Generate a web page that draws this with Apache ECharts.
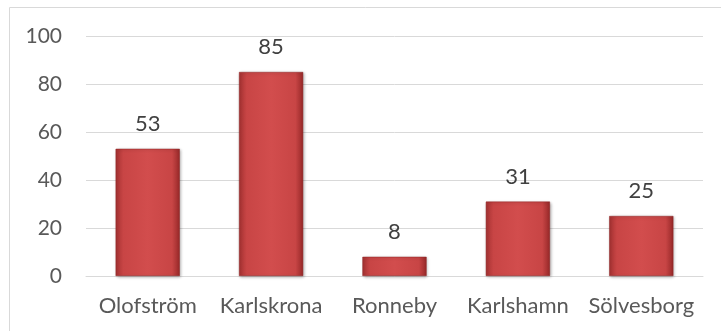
<!DOCTYPE html>
<html><head><meta charset="utf-8">
<script src="https://cdn.jsdelivr.net/npm/echarts@6/dist/echarts.min.js"></script>
<style>html,body{margin:0;padding:0;background:#fff}#c{width:721px;height:331px}</style>
</head><body><div id="c"></div>
<script>
var categories = ['Olofström', 'Karlskrona', 'Ronneby', 'Karlshamn', 'Sölvesborg'];
var values = [53, 85, 8, 31, 25];
var yTicks = [0, 20, 40, 60, 80, 100];

var chart = echarts.init(document.getElementById('c'), null, {renderer: 'canvas'});
var font = 'Lato, sans-serif';
chart.setOption({
  animation: false,
  graphic: [{
    type: 'rect', shape: {x: 9.5, y: 7.5, width: 800, height: 400},
    style: {fill: 'none', stroke: '#d9d9d9', lineWidth: 1}, silent: true
  }],
  grid: {left: 86, right: 18, top: 36, bottom: 55},
  xAxis: {
    type: 'category', data: categories,
    axisLine: {lineStyle: {color: '#d9d9d9', width: 1}},
    axisTick: {show: false},
    axisLabel: {color: '#595959', fontSize: 22, fontFamily: font, margin: 19, interval: 0, hideOverlap: false}
  },
  yAxis: {
    type: 'value', min: 0, max: 100, interval: 20,
    axisLine: {show: false}, axisTick: {show: false},
    splitLine: {lineStyle: {color: '#d9d9d9', width: 1}},
    axisLabel: {color: '#595959', fontSize: 21, fontFamily: font, margin: 24,
      formatter: function (v) { return yTicks.indexOf(v) >= 0 ? String(v) : ''; }}
  },
  series: [{
    type: 'bar', data: values, barWidth: '52%',
    itemStyle: {
      color: {type: 'linear', x: 0, y: 0, x2: 1, y2: 0, colorStops: [
        {offset: 0, color: '#a63232'}, {offset: 0.12, color: '#c84545'},
        {offset: 0.5, color: '#d24d4d'}, {offset: 0.88, color: '#c84545'},
        {offset: 1, color: '#962828'}]},
      borderColor: '#8e2424', borderWidth: 0.5,
      shadowColor: 'rgba(0,0,0,0.3)', shadowBlur: 3, shadowOffsetX: 1, shadowOffsetY: 1
    },
    label: {show: true, position: 'top', color: '#404040', fontSize: 22, fontFamily: font, distance: 14}
  }]
});
</script></body></html>
